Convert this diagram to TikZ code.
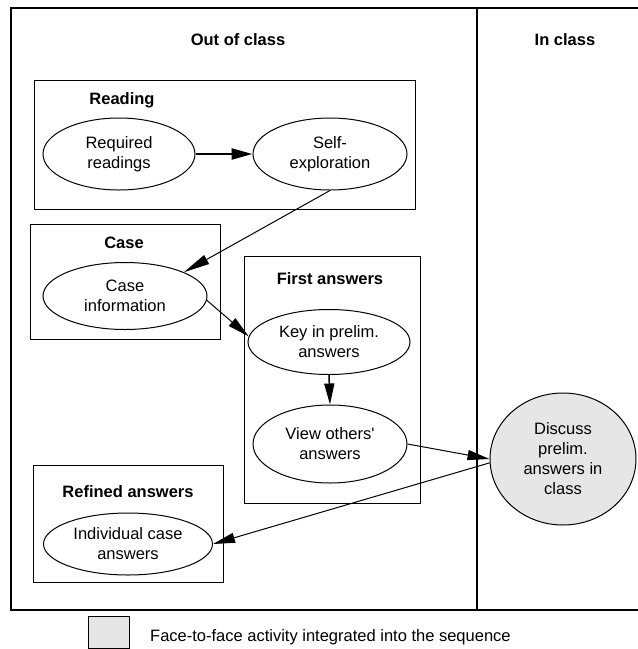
\documentclass[tikz,border=0pt]{standalone}
\usepackage{fontspec}
\setmainfont{Liberation Sans}
\usetikzlibrary{shapes.geometric,arrows.meta}
\definecolor{facefill}{HTML}{E6E6E6}
\begin{document}
\begin{tikzpicture}[x=1pt,y=-1pt,
  lbl/.style={font=\fontsize{16.5}{20}\selectfont, align=center},
  title/.style={font=\fontsize{16.5}{20}\selectfont\bfseries, inner sep=0pt},
  groupbox/.style={draw, line width=1pt, inner sep=0pt},
  activity/.style={ellipse, draw, line width=1pt, inner sep=0pt, lbl},
  flow/.style={line width=1pt, -{Triangle[length=22pt,width=10pt]}},
  mainflow/.style={line width=2.5pt, -{Triangle[length=21pt,width=11pt]}},
]
\useasboundingbox (0,0) rectangle (638,649);

% swim lanes
\draw[line width=2pt] (645,8) -- (11,8) -- (11,610) -- (645,610);
\draw[line width=2pt] (477,8) -- (477,610);
\node[title] (outtitle) at (238,40) {Out of class};
\node[title] (intitle) at (565,40) {In class};

% group boxes
\node[groupbox, minimum width=381pt, minimum height=129pt] (readbox) at (224.5,144.5) {};
\node[title] (readtitle) at (122,100) {Reading};
\node[groupbox, minimum width=190pt, minimum height=115pt] (casebox) at (125,281.5) {};
\node[title] (casetitle) at (124,243) {Case};
\node[groupbox, minimum width=176pt, minimum height=247pt] (firstbox) at (332,379.5) {};
\node[title] (firsttitle) at (330,279) {First answers};
\node[groupbox, minimum width=190pt, minimum height=117pt] (refbox) at (128,523.5) {};
\node[title] (reftitle) at (128,492) {Refined answers};

% activities
\node[activity, minimum width=152pt, minimum height=72pt] (req) at (119,154) {Required\\readings};
\node[activity, minimum width=154pt, minimum height=72pt] (self) at (330,154) {Self-\\exploration};
\node[activity, minimum width=164pt, minimum height=67pt] (caseinfo) at (125,296) {Case\\information};
\node[activity, minimum width=162pt, minimum height=65pt] (key) at (329,342) {Key in prelim.\\answers};
\node[activity, minimum width=154pt, minimum height=78pt] (view) at (330,444) {View others\textquotesingle\\answers};
\node[activity, minimum width=169pt, minimum height=62pt] (indiv) at (128,544) {Individual case\\answers};
\node[activity, fill=facefill, minimum width=146pt, minimum height=132pt] (discuss) at (563,459) {Discuss\\prelim.\\answers in\\class};

% sequence
\draw[mainflow] (req.east) -- (self.west);
\draw[line width=1pt, -{Triangle[length=26pt,width=10pt]}] (self.south) -- (caseinfo.22);
\draw[flow] (caseinfo.-3) -- (key.176);
\draw[line width=1.5pt, -{Triangle[length=21pt,width=10pt]}] (key.south) -- (view.north);
\draw[flow] (view.east) -- (discuss.west);
\draw[flow] (discuss.183) -- (indiv.east);

% legend
\node[draw, line width=1pt, fill=facefill, minimum width=41pt, minimum height=32pt, inner sep=0pt] (legbox) at (108.5,632) {};
\node[lbl, anchor=west, inner sep=0pt] (legtext) at (150,637) {Face-to-face activity integrated into the sequence};
\end{tikzpicture}
\end{document}
